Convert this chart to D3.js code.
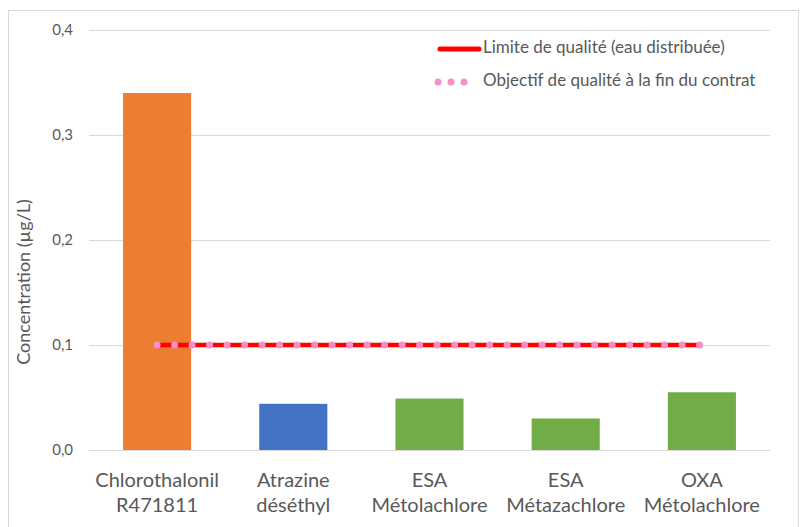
<!DOCTYPE html>
<html>
<head>
<meta charset="utf-8">
<script src="https://cdn.jsdelivr.net/npm/d3@7"></script>
<style>
  body { margin: 0; background: #fff; }
  text { font-family: Lato, "Open Sans", sans-serif; fill: #595959; }
</style>
</head>
<body>
<div class="chart"></div>
<script>
// data
const categories = [["Chlorothalonil", "R471811"], ["Atrazine", "déséthyl"], ["ESA", "Métolachlore"], ["ESA", "Métazachlore"], ["OXA", "Métolachlore"]];
const values = [0.34, 0.044, 0.049, 0.030, 0.055];
const barColors = ["#ED7D31", "#4472C4", "#70AD47", "#70AD47", "#70AD47"];
const limitValue = 0.1;
const objectiveValue = 0.1;
const yTicks = [0, 0.1, 0.2, 0.3, 0.4];
const legendLabels = ["Limite de qualité (eau distribuée)", "Objectif de qualité à la fin du contrat"];

const W = 804, H = 527;
const margin = {top: 30, left: 89, right: 34, bottom: 77};
const width = W - margin.left - margin.right;
const height = H - margin.top - margin.bottom;

const root = d3.select(".chart").append("svg")
    .attr("width", W)
    .attr("height", H);

// outer frame
root.append("rect")
    .attr("x", 8.5).attr("y", 10.5)
    .attr("width", 790).attr("height", 530)
    .attr("fill", "none")
    .attr("stroke", "#d9d9d9");

const svg = root.append("g")
    .attr("transform", "translate(" + margin.left + "," + margin.top + ")");

const keys = categories.map(c => c.join(" "));

const xScale = d3.scaleBand()
    .domain(keys)
    .range([0, width])
    .paddingInner(0.5)
    .paddingOuter(0.25);

const yScale = d3.scaleLinear()
    .domain([0, 0.4])
    .range([height, 0]);

// gridlines + y labels
const yAxis = d3.axisLeft(yScale)
    .tickValues(yTicks)
    .tickSize(-width)
    .tickPadding(16)
    .tickFormat(d => d3.format(".1f")(d).replace(".", ","));

svg.append("g")
    .attr("class", "axis y-axis")
    .call(yAxis)
    .call(g => g.select(".domain").remove())
    .call(g => g.selectAll("line").attr("stroke", "#d9d9d9"))
    .call(g => g.selectAll("text").attr("font-size", 15).style("fill", "#595959"));

// bars
svg.selectAll(".bar")
    .data(values)
    .join("rect")
    .attr("class", "bar")
    .attr("x", (d, i) => xScale(keys[i]))
    .attr("width", xScale.bandwidth())
    .attr("y", d => yScale(d))
    .attr("height", d => height - yScale(d))
    .attr("fill", (d, i) => barColors[i]);

// x axis labels
const xg = svg.append("g")
    .attr("class", "axis x-axis")
    .attr("transform", `translate(0, ${height})`);

xg.selectAll("text")
    .data(categories)
    .join("text")
    .attr("x", (d, i) => xScale(keys[i]) + xScale.bandwidth() / 2)
    .attr("y", 37)
    .attr("text-anchor", "middle")
    .attr("font-size", 20)
    .selectAll("tspan")
    .data(d => d)
    .join("tspan")
    .attr("x", function() { return d3.select(this.parentNode).attr("x"); })
    .attr("dy", (d, i) => i === 0 ? 0 : 25)
    .text(d => d);

// reference lines spanning category centres
const line = d3.line()
    .x(d => xScale(d) + xScale.bandwidth() / 2)
    .y(() => yScale(limitValue));

const ends = [keys[0], keys[keys.length - 1]];

svg.append("path")
    .datum(ends)
    .attr("d", line)
    .attr("fill", "none")
    .attr("stroke", "#FF0000")
    .attr("stroke-width", 4.5);

svg.append("path")
    .datum(ends)
    .attr("d", line.y(() => yScale(objectiveValue)))
    .attr("fill", "none")
    .attr("stroke", "#F48FC8")
    .attr("stroke-width", 7)
    .attr("stroke-linecap", "round")
    .attr("stroke-dasharray", "0 17.5");

// y axis title
root.append("text")
    .attr("transform", "translate(25, 282) rotate(-90)")
    .attr("text-anchor", "middle")
    .attr("dominant-baseline", "middle")
    .attr("font-size", 18)
    .text("Concentration (µg/L)");

// legend
const legend = root.append("g");
legend.append("line")
    .attr("x1", 440).attr("x2", 479)
    .attr("y1", 49).attr("y2", 49)
    .attr("stroke", "#FF0000")
    .attr("stroke-width", 5)
    .attr("stroke-linecap", "round");
legend.append("line")
    .attr("x1", 438).attr("x2", 465)
    .attr("y1", 82).attr("y2", 82)
    .attr("stroke", "#F48FC8")
    .attr("stroke-width", 7)
    .attr("stroke-linecap", "round")
    .attr("stroke-dasharray", "0 13");
legend.selectAll(".leg-text")
    .data(legendLabels)
    .join("text")
    .attr("class", "leg-text")
    .attr("x", 483)
    .attr("y", (d, i) => 49 + i * 33)
    .attr("dominant-baseline", "middle")
    .attr("font-size", 17)
    .text(d => d);
</script>
</body>
</html>
